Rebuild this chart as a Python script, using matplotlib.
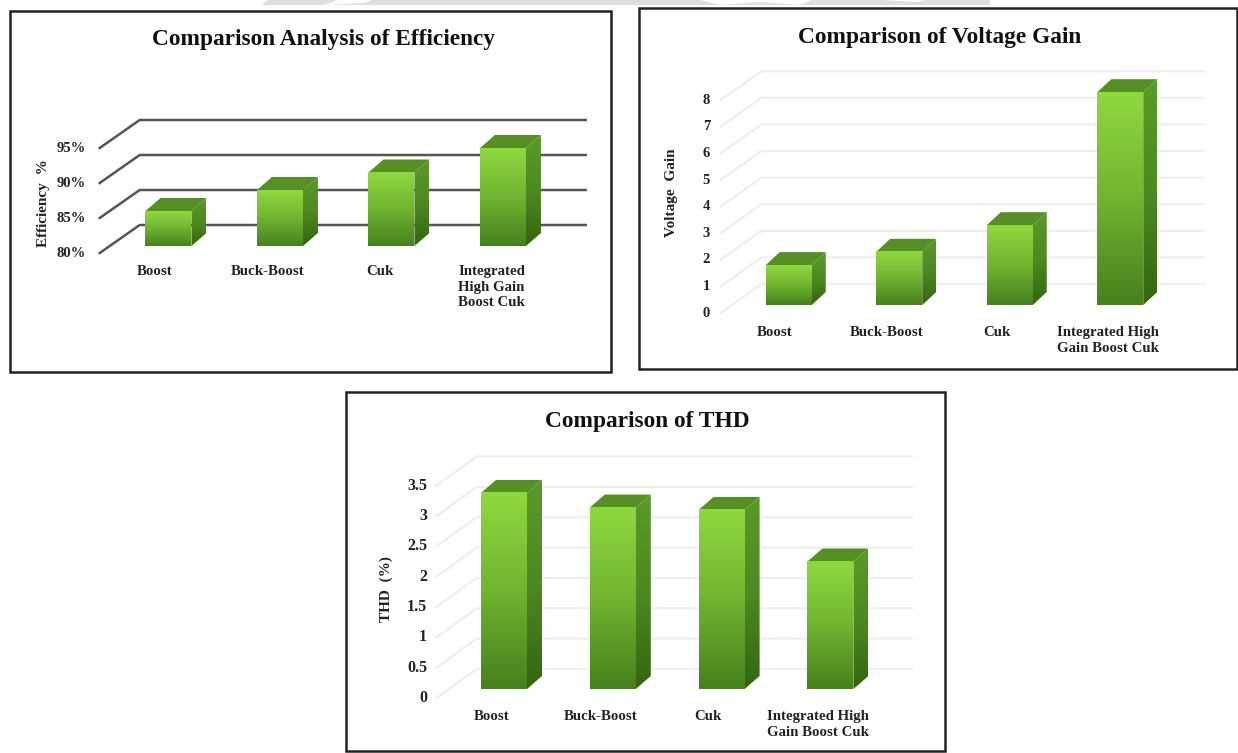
import numpy as np
import matplotlib
matplotlib.use("Agg")
import matplotlib.pyplot as plt
from matplotlib.patches import Polygon, Rectangle
from matplotlib.colors import LinearSegmentedColormap

W, H = 1238, 753

categories_eff = ["Boost", "Buck-Boost", "Cuk", "Integrated\nHigh Gain\nBoost Cuk"]
efficiency = [85, 88, 90.5, 94]
eff_ticks = [80, 85, 90, 95]
eff_labels = ["80%", "85%", "90%", "95%"]

categories_gain = ["Boost", "Buck-Boost", "Cuk", "Integrated High\nGain Boost Cuk"]
voltage_gain = [1.5, 2, 3, 8]
gain_ticks = [0, 1, 2, 3, 4, 5, 6, 7, 8]
gain_labels = ["0", "1", "2", "3", "4", "5", "6", "7", "8"]

categories_thd = ["Boost", "Buck-Boost", "Cuk", "Integrated High\nGain Boost Cuk"]
thd = [3.23, 2.99, 2.95, 2.1]
thd_ticks = [0, 0.5, 1, 1.5, 2, 2.5, 3, 3.5]
thd_labels = ["0", "0.5", "1", "1.5", "2", "2.5", "3", "3.5"]

plt.rcParams["font.family"] = ["Liberation Serif", "DejaVu Serif"]
plt.rcParams["font.weight"] = "bold"

front_cmap = LinearSegmentedColormap.from_list("front", ["#8fd93f", "#6fb530", "#47801d"])
side_cmap = LinearSegmentedColormap.from_list("side", ["#5a9a28", "#4d8a22", "#34650f"])
grad = np.linspace(0, 1, 128).reshape(-1, 1)

fig = plt.figure(figsize=(W / 100, H / 100), dpi=100, facecolor="white")

# whole-figure overlay in pixel coordinates, y pointing down
bg = fig.add_axes([0, 0, 1, 1], zorder=0)
bg.set_xlim(0, W)
bg.set_ylim(H, 0)
bg.axis("off")

# grey band along the top edge, with white notches
bg.add_patch(Polygon([(262, 5), (268, 0), (990, 0), (990, 5)], closed=True, fc="#dedede", ec="none"))
for pts in ([(325, 5), (337, 0), (372, 0), (364, 3)],
            [(700, 0), (812, 0), (800, 5), (760, 2), (720, 5)],
            [(880, 0), (925, 0), (918, 2)]):
    bg.add_patch(Polygon(pts, closed=True, fc="white", ec="none"))


def draw_panel(box, plane, lift, depth_total, depth_bar, bar_w, values, cats, ticks, labels,
               title, title_xy, ylabel, ylabel_x, grid_color, grid_lw, tick_x, tick_fs,
               cat_y, cat_xs):
    left, top, right, bottom = box
    bg.add_patch(Rectangle((left, top), right - left, bottom - top, fc="white", ec="#222222", lw=1.8))
    bg.text(title_xy[0], title_xy[1], title, ha="center", va="center", fontsize=16.8, color="#111111")

    # axes sit on the plane of the bar fronts
    px0, px1, py0, ppu = plane
    ymin, ymax = ticks[0], ticks[-1]
    ptop = py0 - (ymax - ymin) * ppu
    ax = fig.add_axes([px0 / W, 1 - py0 / H, (px1 - px0) / W, (py0 - ptop) / H], zorder=1)
    ax.set_xlim(-0.5, 3.5)
    ax.set_ylim(ymin, ymax)
    ax.axis("off")
    ux = 4 / (px1 - px0)
    uy = 1 / ppu

    # back wall gridlines with the slanted part running to the front edge
    bx, by = lift
    fx, fy = depth_total
    for t in ticks:
        ax.plot([-0.5 + (bx - fx) * ux, -0.5 + bx * ux, 3.5 + bx * ux],
                [t + (by - fy) * uy, t + by * uy, t + by * uy],
                color=grid_color, lw=grid_lw, clip_on=False, zorder=1, solid_joinstyle="miter")

    # bars: gradient front face, side and top faces offset by the bar depth
    dx, dy = depth_bar[0] * ux, depth_bar[1] * uy
    bw = bar_w * ux
    for i, v in enumerate(values):
        x0, x1 = i - bw / 2, i + bw / 2
        ax.add_patch(Polygon([(x0, v), (x1, v), (x1 + dx, v + dy), (x0 + dx, v + dy)],
                             closed=True, fc="#568f24", ec="none", zorder=3, clip_on=False))
        side = ax.imshow(grad, extent=(x1, x1 + dx, ymin, v + dy), cmap=side_cmap, aspect="auto", zorder=3)
        side.set_clip_on(True)
        side.set_clip_box(fig.bbox)
        side.set_clip_path(Polygon([(x1, ymin), (x1 + dx, ymin + dy), (x1 + dx, v + dy), (x1, v)],
                                   closed=True, transform=ax.transData))
        ax.imshow(grad, extent=(x0, x1, ymin, v), cmap=front_cmap, aspect="auto", zorder=4, clip_on=False)
    ax.set_xlim(-0.5, 3.5)
    ax.set_ylim(ymin, ymax)

    # tick labels run down the front edge of the chart
    for t, lab in zip(ticks, labels):
        y_px = py0 - (t - ymin) * ppu - by + fy
        bg.text(tick_x, y_px, lab, ha="right", va="center", fontsize=tick_fs, color="#222222")

    for i, c in enumerate(cats):
        ha = "left" if c.startswith("Integrated\n") else "center"
        bg.text(cat_xs[i], cat_y, c, ha=ha, va="top", fontsize=10.7, linespacing=1.25,
                multialignment="left" if ha == "left" else "center", color="#222222")

    bg.text(ylabel_x, ylabel[1], ylabel[0], rotation=90, ha="center", va="center", fontsize=11, color="#222222")


draw_panel((10, 11, 611, 372), (112.7, 558.7, 246, 7.0), (27, 21), (40, 28), (15, 13), 46,
           efficiency, categories_eff, eff_ticks, eff_labels,
           "Comparison Analysis of Efficiency", (324, 39), ("Efficiency  %", 203), 43.5,
           "#555555", 1.8, 86, 10.5, 265, [155, 267.5, 379.5, 458.5])

draw_panel((638.5, 8, 1237, 369), (733.5, 1175.5, 305, 26.6), (28, 21), (41, 29), (14, 13), 46,
           voltage_gain, categories_gain, gain_ticks, gain_labels,
           "Comparison of Voltage Gain", (940, 37), ("Voltage  Gain", 193), 671,
           "#eeeeee", 1.6, 710, 10.5, 326, [775, 887, 997, 1108])

draw_panel((345.5, 392, 945, 751), (449.6, 884.8, 689, 60.7), (27, 20), (40, 29), (15, 13), 46,
           thd, categories_thd, thd_ticks, thd_labels,
           "Comparison of THD", (647, 421), ("THD  (%)", 589), 386,
           "#eeeeee", 1.6, 427, 11.5, 710, [492, 601, 708, 818])

fig.savefig("out.png", dpi=100)
